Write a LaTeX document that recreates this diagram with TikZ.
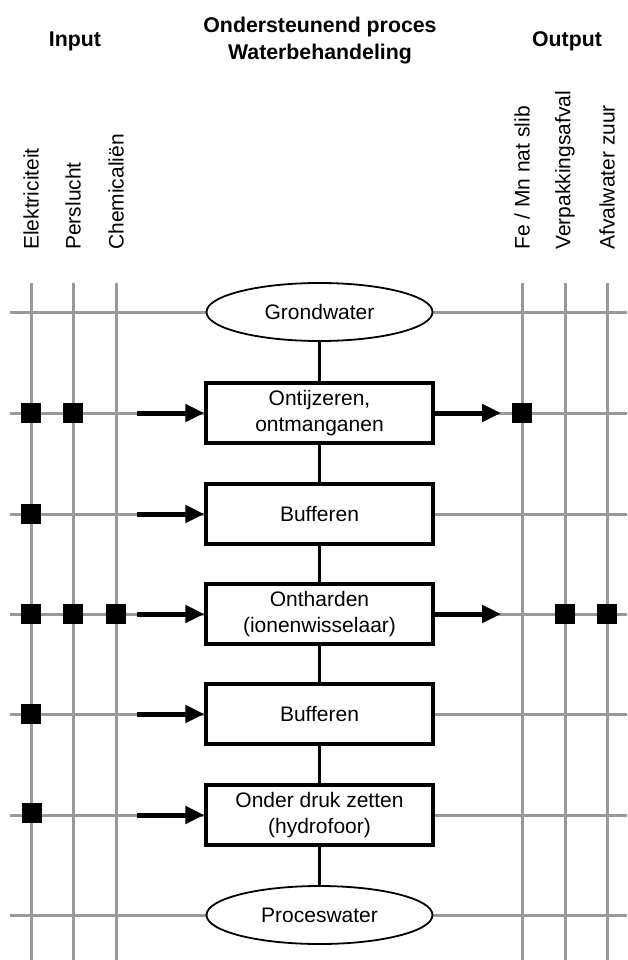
\documentclass[tikz,border=0pt]{standalone}
\usepackage{fontspec}
\setmainfont{Liberation Sans}
\usetikzlibrary{shapes.geometric,arrows.meta}
\begin{document}
\begin{tikzpicture}[x=1pt,y=-1pt,
  grid/.style={draw=black!40,line width=3pt},
  flow/.style={draw=black,line width=3pt},
  stepbox/.style={draw=black,fill=white,line width=3.5pt,minimum width=227pt,minimum height=60pt,
    inner sep=0pt,align=center,font=\fontsize{21}{26}\selectfont},
  endpoint/.style={ellipse,draw=black,fill=white,line width=1.8pt,minimum width=226pt,minimum height=58pt,
    inner sep=0pt,font=\fontsize{21}{26}\selectfont},
  marker/.style={fill=black,minimum size=20pt,inner sep=0pt},
  feed/.style={draw=black,line width=5pt,-{Triangle[length=19pt,width=17pt]}},
  head/.style={font=\bfseries\fontsize{21.3}{27}\selectfont,align=center},
  flowlabel/.style={rotate=90,anchor=west,inner sep=0pt,font=\fontsize{21}{24}\selectfont}]
\useasboundingbox (0,0) rectangle (627,960);

% column positions
\def\colA{31}\def\colB{73}\def\colC{116}
\def\colD{522}\def\colE{565}\def\colF{607}

% headings
\node[head] (hin) at (75,41) {Input};
\node[head] (hmid) at (320,41) {Ondersteunend proces\\Waterbehandeling};
\node[head] (hout) at (567,41) {Output};

% resource labels
\node[flowlabel] (lA) at (\colA,250) {Elektriciteit};
\node[flowlabel] (lB) at (\colB,250) {Perslucht};
\node[flowlabel] (lC) at (\colC,250) {Chemicaliën};
\node[flowlabel] (lD) at (\colD,250) {Fe / Mn nat slib};
\node[flowlabel] (lE) at (\colE,250) {Verpakkingsafval};
\node[flowlabel] (lF) at (\colF,250) {Afvalwater zuur};

% grid: vertical lines
\foreach \c/\n in {\colA/A,\colB/B,\colC/C,\colD/D,\colE/E,\colF/F}{
  \coordinate (top\n) at (\c,283);
  \coordinate (bot\n) at (\c,960);
  \draw[grid] (top\n) -- (bot\n);
}
% grid: horizontal lines
\foreach \r/\n in {312/0,413/1,514/2,614/3,714/4,815/5,915/6}{
  \coordinate (left\n) at (10,\r);
  \coordinate (right\n) at (627,\r);
  \draw[grid] (left\n) -- (right\n);
}

% process chain
\node[endpoint] (src) at (319.5,312) {Grondwater};
\node[stepbox] (s1) at (319.5,413) {Ontijzeren,\\ontmanganen};
\node[stepbox] (s2) at (319.5,514) {Bufferen};
\node[stepbox] (s3) at (319.5,614) {Ontharden\\(ionenwisselaar)};
\node[stepbox] (s4) at (319.5,714) {Bufferen};
\node[stepbox] (s5) at (319.5,815) {Onder druk zetten\\(hydrofoor)};
\node[endpoint] (dst) at (319.5,915) {Proceswater};

\draw[flow] (src.south) -- (s1.north);
\draw[flow] (s1.south) -- (s2.north);
\draw[flow] (s2.south) -- (s3.north);
\draw[flow] (s3.south) -- (s4.north);
\draw[flow] (s4.south) -- (s5.north);
\draw[flow] (s5.south) -- (dst.north);

% input arrows
\foreach \n/\r in {1/413,2/514,3/614,4/714,5/815}{
  \coordinate (in\n) at (137,\r);
  \draw[feed] (in\n) -- (s\n.west);
}
% output arrows
\coordinate (out1) at (501,413);
\coordinate (out3) at (501,614);
\draw[feed] (s1.east) -- (out1);
\draw[feed] (s3.east) -- (out3);

% markers
\node[marker] (m1a) at (\colA,413) {};
\node[marker] (m1b) at (\colB,413) {};
\node[marker] (m1d) at (\colD,413) {};
\node[marker] (m2a) at (\colA,514) {};
\node[marker] (m3a) at (\colA,614) {};
\node[marker] (m3b) at (\colB,614) {};
\node[marker] (m3c) at (\colC,614) {};
\node[marker] (m3e) at (\colE,614) {};
\node[marker] (m3f) at (\colF,614) {};
\node[marker] (m4a) at (\colA,714) {};
\node[marker] (m5a) at (32,813) {};
\end{tikzpicture}
\end{document}
